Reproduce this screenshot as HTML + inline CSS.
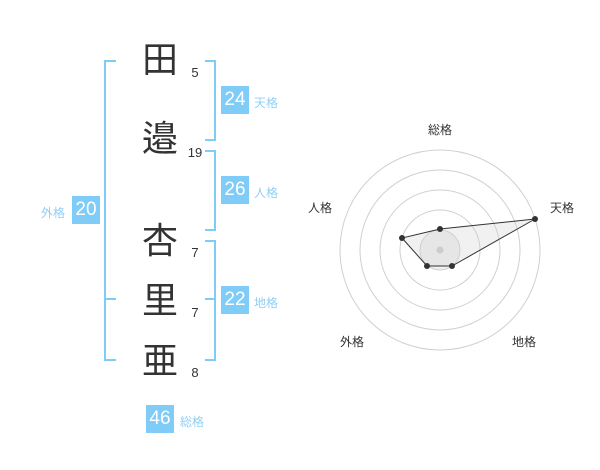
<!DOCTYPE html><html><head><meta charset="utf-8"><style>
body{margin:0;width:600px;height:470px;background:#fff;position:relative;font-family:"Liberation Sans","Noto Sans CJK JP",sans-serif;overflow:hidden}
.k{position:absolute;left:140px;width:40px;text-align:center;font-size:36px;line-height:40px;color:#333}
.n{position:absolute;left:185px;width:20px;text-align:center;font-size:13px;line-height:16px;color:#333}
.b{position:absolute;width:28px;height:28px;background:#80ccf8;color:#fff;font-size:19px;line-height:28px;text-align:center}
.l{position:absolute;font-size:12px;line-height:14px;color:#8fd0f6}
.ln{position:absolute;background:#80ccf8}
</style></head><body>
<div class="k" style="top:40px">田</div>
<div class="k" style="top:119px">邉</div>
<div class="k" style="top:221px">杏</div>
<div class="k" style="top:281px">里</div>
<div class="k" style="top:341px">亜</div>
<div class="n" style="top:65px">5</div>
<div class="n" style="top:145px">19</div>
<div class="n" style="top:245px">7</div>
<div class="n" style="top:305px">7</div>
<div class="n" style="top:365px">8</div>
<div class="ln" style="left:104px;top:60px;width:2px;height:301px"></div>
<div class="ln" style="left:104px;top:60px;width:12px;height:2px"></div>
<div class="ln" style="left:104px;top:298px;width:12px;height:2px"></div>
<div class="ln" style="left:104px;top:359px;width:12px;height:2px"></div>
<div class="ln" style="left:214px;top:60px;width:2px;height:81px"></div>
<div class="ln" style="left:205px;top:60px;width:11px;height:2px"></div>
<div class="ln" style="left:205px;top:139px;width:11px;height:2px"></div>
<div class="ln" style="left:214px;top:150px;width:2px;height:81px"></div>
<div class="ln" style="left:205px;top:150px;width:11px;height:2px"></div>
<div class="ln" style="left:205px;top:229px;width:11px;height:2px"></div>
<div class="ln" style="left:214px;top:240px;width:2px;height:121px"></div>
<div class="ln" style="left:205px;top:240px;width:11px;height:2px"></div>
<div class="ln" style="left:205px;top:298px;width:11px;height:2px"></div>
<div class="ln" style="left:205px;top:359px;width:11px;height:2px"></div>
<div class="b" style="left:221px;top:86px">24</div><div class="l" style="left:254px;top:96px">天格</div>
<div class="b" style="left:221px;top:176px">26</div><div class="l" style="left:254px;top:186px">人格</div>
<div class="b" style="left:221px;top:286px">22</div><div class="l" style="left:254px;top:296px">地格</div>
<div class="b" style="left:72px;top:196px">20</div><div class="l" style="left:41px;top:206px">外格</div>
<div class="b" style="left:146px;top:405px">46</div><div class="l" style="left:180px;top:415px">総格</div>
<svg style="position:absolute;left:0;top:0" width="600" height="470">
<g fill="none" stroke="#d0d0d0" stroke-width="1">
<circle cx="440" cy="250" r="100"/><circle cx="440" cy="250" r="80"/><circle cx="440" cy="250" r="60"/><circle cx="440" cy="250" r="40"/><circle cx="440" cy="250" r="20" fill="#f0f0f0"/>
</g>
<polygon points="440,229 535,219 452,266 427,266 402,238" fill="rgba(210,210,210,0.3)" stroke="#333" stroke-width="1"/>
<circle cx="440" cy="250" r="3.5" fill="#ccc"/>
<g fill="#333"><circle cx="440" cy="229" r="3"/><circle cx="535" cy="219" r="3"/><circle cx="452" cy="266" r="3"/><circle cx="427" cy="266" r="3"/><circle cx="402" cy="238" r="3"/></g>
<g font-size="12" fill="#333" font-family="Liberation Sans,Noto Sans CJK JP,sans-serif" text-anchor="middle">
<text x="440" y="134">総格</text><text x="562" y="212">天格</text><text x="320" y="212">人格</text><text x="352" y="346">外格</text><text x="524" y="346">地格</text>
</g></svg>
</body></html>
